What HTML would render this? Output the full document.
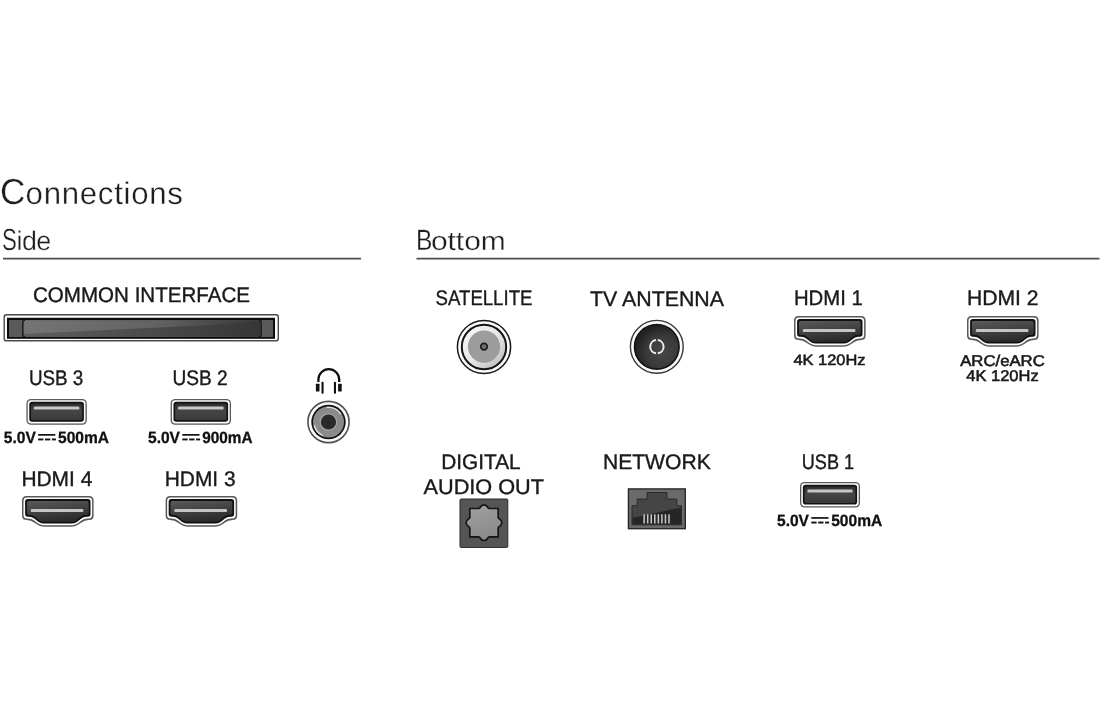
<!DOCTYPE html>
<html><head><meta charset="utf-8"><style>
html,body{margin:0;padding:0;background:#fff;width:1100px;height:720px;overflow:hidden}
svg{display:block;filter:blur(0.25px)}
text{font-family:"Liberation Sans",sans-serif;text-rendering:geometricPrecision}
</style></head><body>
<svg width="1100" height="720" viewBox="0 0 1100 720">
<defs><linearGradient id="ci" x1="0" y1="0" x2="1" y2="0"><stop offset="0" stop-color="#5e5e5e"/><stop offset="0.55" stop-color="#4a4a4a"/><stop offset="1" stop-color="#363636"/></linearGradient><linearGradient id="cih" x1="0" y1="0" x2="1" y2="0"><stop offset="0" stop-color="#777" stop-opacity="0.9"/><stop offset="0.6" stop-color="#6a6a6a" stop-opacity="0.7"/><stop offset="1" stop-color="#555" stop-opacity="0"/></linearGradient><linearGradient id="ug1" x1="0" y1="0" x2="0" y2="1"><stop offset="0" stop-color="#2e2e2e"/><stop offset="0.45" stop-color="#464646"/><stop offset="1" stop-color="#3a3a3a"/></linearGradient><linearGradient id="ug2" x1="0" y1="0" x2="0" y2="1"><stop offset="0" stop-color="#2e2e2e"/><stop offset="0.45" stop-color="#464646"/><stop offset="1" stop-color="#3a3a3a"/></linearGradient><linearGradient id="hg3" x1="0" y1="0" x2="0.3" y2="1"><stop offset="0" stop-color="#5a5a5a"/><stop offset="1" stop-color="#2c2c2c"/></linearGradient><linearGradient id="hg4" x1="0" y1="0" x2="0.3" y2="1"><stop offset="0" stop-color="#5a5a5a"/><stop offset="1" stop-color="#2c2c2c"/></linearGradient><linearGradient id="hg5" x1="0" y1="0" x2="0.3" y2="1"><stop offset="0" stop-color="#5a5a5a"/><stop offset="1" stop-color="#2c2c2c"/></linearGradient><linearGradient id="hg6" x1="0" y1="0" x2="0.3" y2="1"><stop offset="0" stop-color="#5a5a5a"/><stop offset="1" stop-color="#2c2c2c"/></linearGradient><linearGradient id="satl" x1="0.2" y1="0.2" x2="0.8" y2="0.8"><stop offset="0" stop-color="#f2f2f2"/><stop offset="0.55" stop-color="#e6e6e6"/><stop offset="1" stop-color="#c8c8c8"/></linearGradient><radialGradient id="tvg" cx="0.62" cy="0.62" r="0.6"><stop offset="0" stop-color="#474747"/><stop offset="0.6" stop-color="#3a3a3a"/><stop offset="1" stop-color="#222"/></radialGradient><linearGradient id="ug7" x1="0" y1="0" x2="0" y2="1"><stop offset="0" stop-color="#2e2e2e"/><stop offset="0.45" stop-color="#464646"/><stop offset="1" stop-color="#3a3a3a"/></linearGradient><linearGradient id="optg" x1="0" y1="0" x2="0.4" y2="1"><stop offset="0" stop-color="#a2a2a2"/><stop offset="1" stop-color="#8a8a8a"/></linearGradient><linearGradient id="rjg" x1="0" y1="0" x2="0" y2="1"><stop offset="0" stop-color="#454545"/><stop offset="1" stop-color="#333"/></linearGradient></defs>
<rect width="1100" height="720" fill="#fff"/>
<text x="0.0" y="204.3" font-size="36" font-weight="normal" fill="#1e1e1e" textLength="25.4" lengthAdjust="spacingAndGlyphs" stroke="#fff" stroke-width="0.3">C</text>
<text x="25.6" y="204.2" font-size="31.2" font-weight="normal" fill="#1e1e1e" textLength="157.3" lengthAdjust="spacing" stroke="#fff" stroke-width="0.3">onnections</text>
<text x="1.9" y="250.2" font-size="30.6" font-weight="normal" fill="#1e1e1e" textLength="14.8" lengthAdjust="spacingAndGlyphs" stroke="#fff" stroke-width="0.3">S</text>
<text x="16.6" y="250.1" font-size="26.8" font-weight="normal" fill="#1e1e1e" textLength="34.6" lengthAdjust="spacing" stroke="#fff" stroke-width="0.3">ide</text>
<text x="415.9" y="249.8" font-size="29.3" font-weight="normal" fill="#1e1e1e" textLength="16.4" lengthAdjust="spacingAndGlyphs" stroke="#fff" stroke-width="0.3">B</text>
<text x="430.9" y="249.8" font-size="26.5" font-weight="normal" fill="#1e1e1e" textLength="74.9" lengthAdjust="spacingAndGlyphs" stroke="#fff" stroke-width="0.3">ottom</text>
<rect x="3" y="257.75" width="358" height="1.75" fill="#4e4e4e"/>
<rect x="416.5" y="257.75" width="683" height="1.75" fill="#4e4e4e"/>
<text x="33" y="302" font-size="21" font-weight="normal" fill="#1a1a1a" textLength="217" lengthAdjust="spacingAndGlyphs" stroke="#151515" stroke-width="0.35">COMMON INTERFACE</text>
<g><rect x="3.5" y="314" width="275.5" height="27.5" rx="2.8" fill="#4a4a4a"/><rect x="4.9" y="315.4" width="272.7" height="24.7" rx="1.6" fill="#fbfbfb"/><rect x="7" y="317.8" width="268" height="21" fill="#0c0c0c"/><rect x="9" y="320" width="264" height="17" fill="#5a5a5a"/><rect x="23.5" y="320.2" width="237" height="16.6" fill="url(#ci)"/><path d="M23.5,320.2 L260.5,320.2 L260.5,322.5 L23.5,334 Z" fill="url(#cih)"/><path d="M25,320.2 L22.8,321.2 L22.8,335.8 L25,336.8" stroke="#1a1a1a" stroke-width="1.4" fill="none"/><path d="M259,320.2 L261.2,321.2 L261.2,335.8 L259,336.8" stroke="#1a1a1a" stroke-width="1.4" fill="none"/></g>
<text x="28.9" y="384.7" font-size="21" font-weight="normal" fill="#1a1a1a" textLength="54.4" lengthAdjust="spacingAndGlyphs" stroke="#151515" stroke-width="0.35">USB 3</text>
<text x="172.4" y="385.2" font-size="21" font-weight="normal" fill="#1a1a1a" textLength="55.2" lengthAdjust="spacingAndGlyphs" stroke="#151515" stroke-width="0.35">USB 2</text>
<g transform="translate(26.4,398.9)"><rect x="0" y="0" width="60.4" height="25.8" rx="4.5" fill="#5a5a5a"/><rect x="1.3" y="1.3" width="57.8" height="23.2" rx="3.4" fill="#fbfbfb"/><rect x="2.9" y="2.9" width="54.6" height="20.0" rx="2.8" fill="#121212"/><rect x="4.6" y="4.6" width="51.2" height="16.6" rx="1.6" fill="url(#ug1)"/><rect x="7.4" y="7.7" width="45.599999999999994" height="3.0" rx="1.2" fill="#c8c8c8"/></g>
<g transform="translate(170.6,398.9)"><rect x="0" y="0" width="60.4" height="25.8" rx="4.5" fill="#5a5a5a"/><rect x="1.3" y="1.3" width="57.8" height="23.2" rx="3.4" fill="#fbfbfb"/><rect x="2.9" y="2.9" width="54.6" height="20.0" rx="2.8" fill="#121212"/><rect x="4.6" y="4.6" width="51.2" height="16.6" rx="1.6" fill="url(#ug2)"/><rect x="7.4" y="7.7" width="45.599999999999994" height="3.0" rx="1.2" fill="#c8c8c8"/></g>
<g transform="translate(4.8,442.7)"><text x="-1" y="0" font-size="16.3" font-weight="bold" fill="#111" stroke="#111" stroke-width="0.3" textLength="32" lengthAdjust="spacingAndGlyphs">5.0V</text><rect x="33.3" y="-8.7" width="17.2" height="1.7" fill="#111"/><rect x="33.3" y="-4.2" width="5.3" height="1.9" fill="#111"/><rect x="40.2" y="-4.2" width="5.3" height="1.9" fill="#111"/><rect x="47.1" y="-4.2" width="4" height="1.9" fill="#111"/><text x="53.2" y="0" font-size="16.3" font-weight="bold" fill="#111" stroke="#111" stroke-width="0.3" textLength="51" lengthAdjust="spacingAndGlyphs">500mA</text></g>
<g transform="translate(149.0,442.7)"><text x="-1" y="0" font-size="16.3" font-weight="bold" fill="#111" stroke="#111" stroke-width="0.3" textLength="32" lengthAdjust="spacingAndGlyphs">5.0V</text><rect x="33.3" y="-8.7" width="17.2" height="1.7" fill="#111"/><rect x="33.3" y="-4.2" width="5.3" height="1.9" fill="#111"/><rect x="40.2" y="-4.2" width="5.3" height="1.9" fill="#111"/><rect x="47.1" y="-4.2" width="4" height="1.9" fill="#111"/><text x="53.2" y="0" font-size="16.3" font-weight="bold" fill="#111" stroke="#111" stroke-width="0.3" textLength="50.3" lengthAdjust="spacingAndGlyphs">900mA</text></g>
<text x="21.4" y="485.5" font-size="21" font-weight="normal" fill="#1a1a1a" textLength="70.9" lengthAdjust="spacingAndGlyphs" stroke="#151515" stroke-width="0.35">HDMI 4</text>
<text x="164.7" y="485.5" font-size="21" font-weight="normal" fill="#1a1a1a" textLength="70.9" lengthAdjust="spacingAndGlyphs" stroke="#151515" stroke-width="0.35">HDMI 3</text>
<g transform="translate(22,496)"><path d="M0.00,4.50 Q0.00,0.00 4.50,0.00 L67.10,0.00 Q71.60,0.00 71.60,4.50 L71.60,19.40 Q71.60,23.90 67.10,23.90 L67.10,23.90 Q62.60,23.90 59.10,26.73 L57.70,27.87 Q54.20,30.70 49.70,30.70 L21.90,30.70 Q17.40,30.70 13.90,27.87 L12.50,26.73 Q9.00,23.90 4.50,23.90 L4.50,23.90 Q0.00,23.90 0.00,19.40 Z" fill="#5a5a5a"/><path d="M1.50,4.90 Q1.50,1.50 4.90,1.50 L66.70,1.50 Q70.10,1.50 70.10,4.90 L70.10,19.00 Q70.10,22.40 66.70,22.40 L65.47,22.40 Q62.07,22.40 59.43,24.54 L56.31,27.06 Q53.67,29.20 50.27,29.20 L21.33,29.20 Q17.93,29.20 15.29,27.06 L12.17,24.54 Q9.53,22.40 6.13,22.40 L4.90,22.40 Q1.50,22.40 1.50,19.00 Z" fill="#fbfbfb"/><path d="M3.10,5.90 Q3.10,3.10 5.90,3.10 L65.70,3.10 Q68.50,3.10 68.50,5.90 L68.50,18.00 Q68.50,20.80 65.70,20.80 L64.30,20.80 Q61.50,20.80 59.33,22.56 L55.28,25.84 Q53.10,27.60 50.30,27.60 L21.30,27.60 Q18.50,27.60 16.32,25.84 L12.27,22.56 Q10.10,20.80 7.30,20.80 L5.90,20.80 Q3.10,20.80 3.10,18.00 Z" fill="#111"/><path d="M4.90,6.70 Q4.90,4.90 6.70,4.90 L64.90,4.90 Q66.70,4.90 66.70,6.70 L66.70,17.20 Q66.70,19.00 64.90,19.00 L62.67,19.00 Q60.87,19.00 59.47,20.13 L53.86,24.67 Q52.47,25.80 50.67,25.80 L20.93,25.80 Q19.13,25.80 17.74,24.67 L12.13,20.13 Q10.73,19.00 8.93,19.00 L6.70,19.00 Q4.90,19.00 4.90,17.20 Z" fill="url(#hg3)"/><rect x="8.8" y="12.9" width="52.6" height="3.2" rx="1.2" fill="#c4c4c4"/></g>
<g transform="translate(165.6,496)"><path d="M0.00,4.50 Q0.00,0.00 4.50,0.00 L67.10,0.00 Q71.60,0.00 71.60,4.50 L71.60,19.40 Q71.60,23.90 67.10,23.90 L67.10,23.90 Q62.60,23.90 59.10,26.73 L57.70,27.87 Q54.20,30.70 49.70,30.70 L21.90,30.70 Q17.40,30.70 13.90,27.87 L12.50,26.73 Q9.00,23.90 4.50,23.90 L4.50,23.90 Q0.00,23.90 0.00,19.40 Z" fill="#5a5a5a"/><path d="M1.50,4.90 Q1.50,1.50 4.90,1.50 L66.70,1.50 Q70.10,1.50 70.10,4.90 L70.10,19.00 Q70.10,22.40 66.70,22.40 L65.47,22.40 Q62.07,22.40 59.43,24.54 L56.31,27.06 Q53.67,29.20 50.27,29.20 L21.33,29.20 Q17.93,29.20 15.29,27.06 L12.17,24.54 Q9.53,22.40 6.13,22.40 L4.90,22.40 Q1.50,22.40 1.50,19.00 Z" fill="#fbfbfb"/><path d="M3.10,5.90 Q3.10,3.10 5.90,3.10 L65.70,3.10 Q68.50,3.10 68.50,5.90 L68.50,18.00 Q68.50,20.80 65.70,20.80 L64.30,20.80 Q61.50,20.80 59.33,22.56 L55.28,25.84 Q53.10,27.60 50.30,27.60 L21.30,27.60 Q18.50,27.60 16.32,25.84 L12.27,22.56 Q10.10,20.80 7.30,20.80 L5.90,20.80 Q3.10,20.80 3.10,18.00 Z" fill="#111"/><path d="M4.90,6.70 Q4.90,4.90 6.70,4.90 L64.90,4.90 Q66.70,4.90 66.70,6.70 L66.70,17.20 Q66.70,19.00 64.90,19.00 L62.67,19.00 Q60.87,19.00 59.47,20.13 L53.86,24.67 Q52.47,25.80 50.67,25.80 L20.93,25.80 Q19.13,25.80 17.74,24.67 L12.13,20.13 Q10.73,19.00 8.93,19.00 L6.70,19.00 Q4.90,19.00 4.90,17.20 Z" fill="url(#hg4)"/><rect x="8.8" y="12.9" width="52.6" height="3.2" rx="1.2" fill="#c4c4c4"/></g>
<g fill="none" stroke="#111"><path d="M318.4,382 L318.4,379.6 A10.4,10.4 0 0 1 339.2,379.6 L339.2,382" stroke-width="2.3"/><rect x="315.9" y="383.8" width="3.6" height="7.6" rx="0.5" fill="#111" stroke="none"/><rect x="338.1" y="383.8" width="3.6" height="7.6" rx="0.5" fill="#111" stroke="none"/><rect x="321.5" y="381.8" width="2.1" height="12" rx="0.8" fill="#111" stroke="none"/><rect x="333.9" y="381.8" width="2.1" height="12" rx="0.8" fill="#111" stroke="none"/></g>
<g><circle cx="328.5" cy="422" r="20.6" fill="#fbfbfb" stroke="#505050" stroke-width="1.6"/><circle cx="328.5" cy="422" r="17.2" fill="#121212"/><circle cx="328.5" cy="422" r="15.5" fill="#8a8a8a"/><path d="M327.23,407.46 A14.6,14.6 0 0 1 340.46,413.63" fill="none" stroke="#e6e6e6" stroke-width="1.3" stroke-linecap="round"/><path d="M322.33,435.23 A14.6,14.6 0 0 1 314.40,425.78" fill="none" stroke="#e6e6e6" stroke-width="1.3" stroke-linecap="round"/><circle cx="328.5" cy="422" r="8.8" fill="#a5a5a5"/><circle cx="328.5" cy="422" r="7.6" fill="#2a2a2a"/></g>
<text x="435.6" y="305.2" font-size="21" font-weight="normal" fill="#1a1a1a" textLength="96.8" lengthAdjust="spacingAndGlyphs" stroke="#151515" stroke-width="0.35">SATELLITE</text>
<text x="590" y="305.5" font-size="21" font-weight="normal" fill="#1a1a1a" textLength="134" lengthAdjust="spacingAndGlyphs" stroke="#151515" stroke-width="0.35">TV ANTENNA</text>
<text x="793.9" y="305.4" font-size="21" font-weight="normal" fill="#1a1a1a" textLength="68.9" lengthAdjust="spacingAndGlyphs" stroke="#151515" stroke-width="0.35">HDMI 1</text>
<text x="966.9" y="304.9" font-size="21" font-weight="normal" fill="#1a1a1a" textLength="71.7" lengthAdjust="spacingAndGlyphs" stroke="#151515" stroke-width="0.35">HDMI 2</text>
<g transform="translate(794,316)"><path d="M0.00,4.50 Q0.00,0.00 4.50,0.00 L67.10,0.00 Q71.60,0.00 71.60,4.50 L71.60,19.40 Q71.60,23.90 67.10,23.90 L67.10,23.90 Q62.60,23.90 59.10,26.73 L57.70,27.87 Q54.20,30.70 49.70,30.70 L21.90,30.70 Q17.40,30.70 13.90,27.87 L12.50,26.73 Q9.00,23.90 4.50,23.90 L4.50,23.90 Q0.00,23.90 0.00,19.40 Z" fill="#5a5a5a"/><path d="M1.50,4.90 Q1.50,1.50 4.90,1.50 L66.70,1.50 Q70.10,1.50 70.10,4.90 L70.10,19.00 Q70.10,22.40 66.70,22.40 L65.47,22.40 Q62.07,22.40 59.43,24.54 L56.31,27.06 Q53.67,29.20 50.27,29.20 L21.33,29.20 Q17.93,29.20 15.29,27.06 L12.17,24.54 Q9.53,22.40 6.13,22.40 L4.90,22.40 Q1.50,22.40 1.50,19.00 Z" fill="#fbfbfb"/><path d="M3.10,5.90 Q3.10,3.10 5.90,3.10 L65.70,3.10 Q68.50,3.10 68.50,5.90 L68.50,18.00 Q68.50,20.80 65.70,20.80 L64.30,20.80 Q61.50,20.80 59.33,22.56 L55.28,25.84 Q53.10,27.60 50.30,27.60 L21.30,27.60 Q18.50,27.60 16.32,25.84 L12.27,22.56 Q10.10,20.80 7.30,20.80 L5.90,20.80 Q3.10,20.80 3.10,18.00 Z" fill="#111"/><path d="M4.90,6.70 Q4.90,4.90 6.70,4.90 L64.90,4.90 Q66.70,4.90 66.70,6.70 L66.70,17.20 Q66.70,19.00 64.90,19.00 L62.67,19.00 Q60.87,19.00 59.47,20.13 L53.86,24.67 Q52.47,25.80 50.67,25.80 L20.93,25.80 Q19.13,25.80 17.74,24.67 L12.13,20.13 Q10.73,19.00 8.93,19.00 L6.70,19.00 Q4.90,19.00 4.90,17.20 Z" fill="url(#hg5)"/><rect x="8.8" y="12.9" width="52.6" height="3.2" rx="1.2" fill="#c4c4c4"/></g>
<g transform="translate(967,316)"><path d="M0.00,4.50 Q0.00,0.00 4.50,0.00 L67.10,0.00 Q71.60,0.00 71.60,4.50 L71.60,19.40 Q71.60,23.90 67.10,23.90 L67.10,23.90 Q62.60,23.90 59.10,26.73 L57.70,27.87 Q54.20,30.70 49.70,30.70 L21.90,30.70 Q17.40,30.70 13.90,27.87 L12.50,26.73 Q9.00,23.90 4.50,23.90 L4.50,23.90 Q0.00,23.90 0.00,19.40 Z" fill="#5a5a5a"/><path d="M1.50,4.90 Q1.50,1.50 4.90,1.50 L66.70,1.50 Q70.10,1.50 70.10,4.90 L70.10,19.00 Q70.10,22.40 66.70,22.40 L65.47,22.40 Q62.07,22.40 59.43,24.54 L56.31,27.06 Q53.67,29.20 50.27,29.20 L21.33,29.20 Q17.93,29.20 15.29,27.06 L12.17,24.54 Q9.53,22.40 6.13,22.40 L4.90,22.40 Q1.50,22.40 1.50,19.00 Z" fill="#fbfbfb"/><path d="M3.10,5.90 Q3.10,3.10 5.90,3.10 L65.70,3.10 Q68.50,3.10 68.50,5.90 L68.50,18.00 Q68.50,20.80 65.70,20.80 L64.30,20.80 Q61.50,20.80 59.33,22.56 L55.28,25.84 Q53.10,27.60 50.30,27.60 L21.30,27.60 Q18.50,27.60 16.32,25.84 L12.27,22.56 Q10.10,20.80 7.30,20.80 L5.90,20.80 Q3.10,20.80 3.10,18.00 Z" fill="#111"/><path d="M4.90,6.70 Q4.90,4.90 6.70,4.90 L64.90,4.90 Q66.70,4.90 66.70,6.70 L66.70,17.20 Q66.70,19.00 64.90,19.00 L62.67,19.00 Q60.87,19.00 59.47,20.13 L53.86,24.67 Q52.47,25.80 50.67,25.80 L20.93,25.80 Q19.13,25.80 17.74,24.67 L12.13,20.13 Q10.73,19.00 8.93,19.00 L6.70,19.00 Q4.90,19.00 4.90,17.20 Z" fill="url(#hg6)"/><rect x="8.8" y="12.9" width="52.6" height="3.2" rx="1.2" fill="#c4c4c4"/></g>
<text x="793.5" y="365.4" font-size="15" font-weight="normal" fill="#1a1a1a" textLength="72" lengthAdjust="spacingAndGlyphs" stroke="#151515" stroke-width="0.55">4K 120Hz</text>
<text x="960.2" y="366.3" font-size="15.5" font-weight="normal" fill="#1a1a1a" textLength="84.6" lengthAdjust="spacingAndGlyphs" stroke="#151515" stroke-width="0.55">ARC/eARC</text>
<text x="966.3" y="380.9" font-size="15.5" font-weight="normal" fill="#1a1a1a" textLength="72.4" lengthAdjust="spacingAndGlyphs" stroke="#151515" stroke-width="0.55">4K 120Hz</text>
<g><circle cx="484" cy="347" r="26.6" fill="#fbfbfb" stroke="#1a1a1a" stroke-width="1.5"/><circle cx="484" cy="347" r="22.2" fill="url(#satl)" stroke="#151515" stroke-width="2"/><circle cx="484" cy="346.6" r="16.1" fill="#9c9c9c"/><circle cx="484" cy="346.6" r="3.3" fill="#707070" stroke="#1e1e1e" stroke-width="1.7"/></g>
<g><circle cx="656.8" cy="346.8" r="26.4" fill="#fbfbfb" stroke="#3a3a3a" stroke-width="1.4"/><circle cx="656.8" cy="346.8" r="22.3" fill="url(#tvg)" stroke="#141414" stroke-width="1.6"/><path d="M656.03,340.06 A6.7,6.7 0 0 0 656.03,353.34" fill="none" stroke="#ececec" stroke-width="2"/><path d="M657.77,340.06 A6.7,6.7 0 0 1 657.77,353.34" fill="none" stroke="#ececec" stroke-width="2"/></g>
<text x="441.2" y="468.7" font-size="21" font-weight="normal" fill="#1a1a1a" textLength="79.4" lengthAdjust="spacingAndGlyphs" stroke="#151515" stroke-width="0.35">DIGITAL</text>
<text x="423.5" y="494.2" font-size="21" font-weight="normal" fill="#1a1a1a" textLength="120.5" lengthAdjust="spacingAndGlyphs" stroke="#151515" stroke-width="0.35">AUDIO OUT</text>
<text x="602.9" y="468.5" font-size="21" font-weight="normal" fill="#1a1a1a" textLength="107.9" lengthAdjust="spacingAndGlyphs" stroke="#151515" stroke-width="0.35">NETWORK</text>
<text x="801.8" y="469.2" font-size="21" font-weight="normal" fill="#1a1a1a" textLength="52.3" lengthAdjust="spacingAndGlyphs" stroke="#151515" stroke-width="0.35">USB 1</text>
<g transform="translate(800,481.9)"><rect x="0" y="0" width="60" height="25.6" rx="4.5" fill="#5a5a5a"/><rect x="1.3" y="1.3" width="57.4" height="23.0" rx="3.4" fill="#fbfbfb"/><rect x="2.9" y="2.9" width="54.2" height="19.8" rx="2.8" fill="#121212"/><rect x="4.6" y="4.6" width="50.8" height="16.400000000000002" rx="1.6" fill="url(#ug7)"/><rect x="7.4" y="7.7" width="45.2" height="3.0" rx="1.2" fill="#c8c8c8"/></g>
<g transform="translate(778.0,525.8)"><text x="-1" y="0" font-size="16.3" font-weight="bold" fill="#111" stroke="#111" stroke-width="0.3" textLength="32" lengthAdjust="spacingAndGlyphs">5.0V</text><rect x="33.3" y="-8.7" width="17.2" height="1.7" fill="#111"/><rect x="33.3" y="-4.2" width="5.3" height="1.9" fill="#111"/><rect x="40.2" y="-4.2" width="5.3" height="1.9" fill="#111"/><rect x="47.1" y="-4.2" width="4" height="1.9" fill="#111"/><text x="53.2" y="0" font-size="16.3" font-weight="bold" fill="#111" stroke="#111" stroke-width="0.3" textLength="51" lengthAdjust="spacingAndGlyphs">500mA</text></g>
<g><rect x="460" y="499" width="47.8" height="48.4" rx="1" fill="#555" stroke="#2a2a2a" stroke-width="1"/><path d="M469.8,508.50000000000006 L478.80,508.50 C480.60,508.50 480.10,504.90 484.00,504.90 C487.90,504.90 487.40,508.50 489.20,508.50 L498.20,508.50 L498.20,517.50 C498.20,519.30 501.80,518.80 501.80,522.70 C501.80,526.60 498.20,526.10 498.20,527.90 L498.20,536.90 L489.20,536.90 C487.40,536.90 487.90,540.50 484.00,540.50 C480.10,540.50 480.60,536.90 478.80,536.90 L469.80,536.90 L469.80,527.90 C469.80,526.10 466.20,526.60 466.20,522.70 C466.20,518.80 469.80,519.30 469.80,517.50 L469.80,508.50 Z" fill="url(#optg)" stroke="#151515" stroke-width="1.7" stroke-linejoin="round"/></g>
<g><rect x="628.4" y="488.9" width="56.9" height="39.8" fill="#6a6a6a" stroke="#222" stroke-width="1.3"/><path d="M647.1,492.5 L666.9,492.5 L666.9,499.1 L676.8,499.1 L676.8,505.7 L681.4,505.7 L681.4,524.8 L632,524.8 L632,505.7 L637.2,505.7 L637.2,499.1 L647.1,499.1 Z" fill="#454545" stroke="#2a2a2a" stroke-width="1"/><path d="M632.5,518 L681,507.5 L681,524.3 L632.5,524.3 Z" fill="#262626"/><rect x="643.40" y="514.3" width="1.5" height="9.2" fill="#c8c8c8"/><rect x="646.95" y="514.3" width="1.5" height="9.2" fill="#c8c8c8"/><rect x="650.50" y="514.3" width="1.5" height="9.2" fill="#c8c8c8"/><rect x="654.05" y="514.3" width="1.5" height="9.2" fill="#c8c8c8"/><rect x="657.60" y="514.3" width="1.5" height="9.2" fill="#c8c8c8"/><rect x="661.15" y="514.3" width="1.5" height="9.2" fill="#c8c8c8"/><rect x="664.70" y="514.3" width="1.5" height="9.2" fill="#c8c8c8"/><rect x="668.25" y="514.3" width="1.5" height="9.2" fill="#c8c8c8"/></g>
</svg>
</body></html>
